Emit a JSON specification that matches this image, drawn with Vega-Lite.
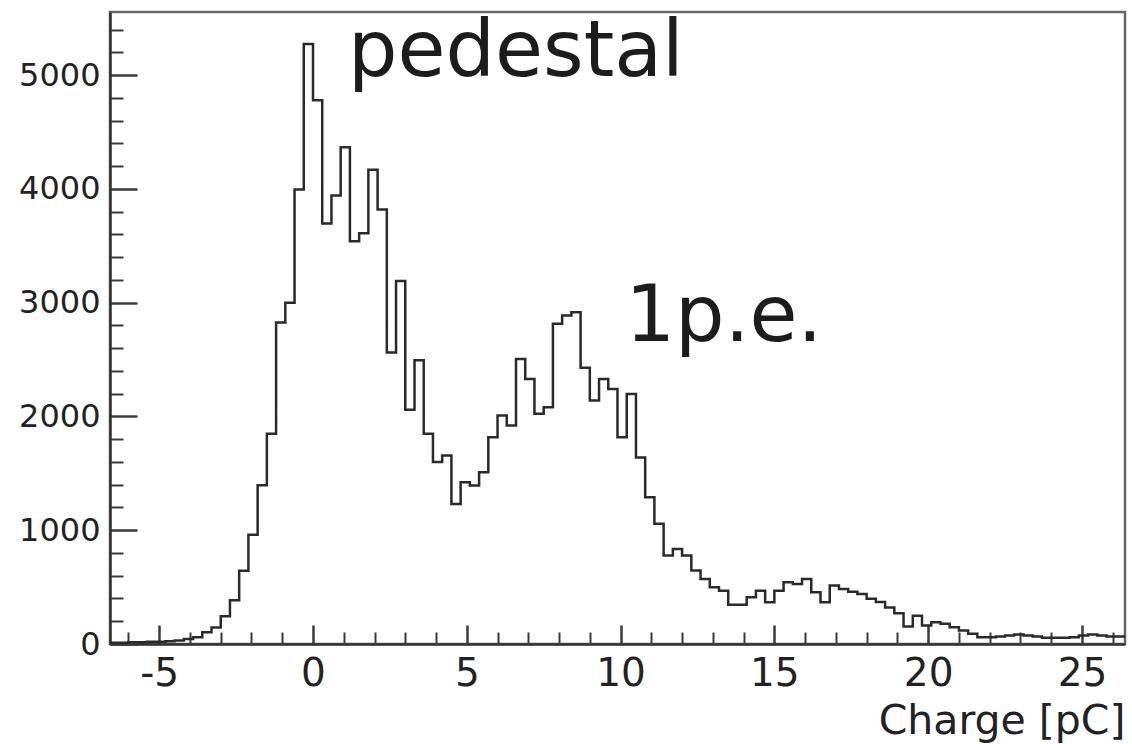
{
  "$schema": "https://vega.github.io/schema/vega-lite/v6.json",
  "width": 1015,
  "height": 632,
  "autosize": {"type": "none"},
  "padding": {"left": 110, "top": 12, "right": 7, "bottom": 100},
  "background": "white",
  "config": {
    "view": {"stroke": "#666666", "strokeWidth": 2.5},
    "axis": {"grid": false, "domainColor": "#333333", "domainWidth": 2.5, "tickColor": "#3a3a3a", "labelFont": "DejaVu Sans", "labelColor": "#222222", "titleFont": "DejaVu Sans", "titleColor": "#222222", "titleFontWeight": "normal"}
  },
  "datasets": {
    "hist": [
      {"charge": -6.6, "count": 10}, {"charge": -6.3, "count": 12}, {"charge": -6.0, "count": 15}, {"charge": -5.7, "count": 15},
      {"charge": -5.4, "count": 20}, {"charge": -5.1, "count": 20}, {"charge": -4.8, "count": 25}, {"charge": -4.5, "count": 30},
      {"charge": -4.2, "count": 45}, {"charge": -3.9, "count": 60}, {"charge": -3.6, "count": 104}, {"charge": -3.3, "count": 145},
      {"charge": -3.0, "count": 245}, {"charge": -2.7, "count": 385}, {"charge": -2.4, "count": 644}, {"charge": -2.1, "count": 960},
      {"charge": -1.8, "count": 1395}, {"charge": -1.5, "count": 1848}, {"charge": -1.2, "count": 2825}, {"charge": -0.9, "count": 3000},
      {"charge": -0.6, "count": 3994}, {"charge": -0.3, "count": 5274}, {"charge": 0.0, "count": 4779}, {"charge": 0.3, "count": 3697},
      {"charge": 0.6, "count": 3942}, {"charge": 0.9, "count": 4367}, {"charge": 1.2, "count": 3540}, {"charge": 1.5, "count": 3610},
      {"charge": 1.8, "count": 4168}, {"charge": 2.1, "count": 3819}, {"charge": 2.4, "count": 2563}, {"charge": 2.7, "count": 3191},
      {"charge": 3.0, "count": 2058}, {"charge": 3.3, "count": 2494}, {"charge": 3.6, "count": 1848}, {"charge": 3.9, "count": 1600},
      {"charge": 4.2, "count": 1657}, {"charge": 4.5, "count": 1231}, {"charge": 4.8, "count": 1422}, {"charge": 5.1, "count": 1393},
      {"charge": 5.4, "count": 1510}, {"charge": 5.7, "count": 1818}, {"charge": 6.0, "count": 2008}, {"charge": 6.3, "count": 1920},
      {"charge": 6.6, "count": 2506}, {"charge": 6.9, "count": 2330}, {"charge": 7.2, "count": 2023}, {"charge": 7.5, "count": 2081},
      {"charge": 7.8, "count": 2814}, {"charge": 8.1, "count": 2887}, {"charge": 8.4, "count": 2917}, {"charge": 8.7, "count": 2428},
      {"charge": 9.0, "count": 2140}, {"charge": 9.3, "count": 2330}, {"charge": 9.6, "count": 2242}, {"charge": 9.9, "count": 1818},
      {"charge": 10.2, "count": 2198}, {"charge": 10.5, "count": 1640}, {"charge": 10.8, "count": 1290}, {"charge": 11.1, "count": 1056},
      {"charge": 11.4, "count": 777}, {"charge": 11.7, "count": 836}, {"charge": 12.0, "count": 777}, {"charge": 12.3, "count": 645},
      {"charge": 12.6, "count": 572}, {"charge": 12.9, "count": 499}, {"charge": 13.2, "count": 469}, {"charge": 13.5, "count": 346},
      {"charge": 13.8, "count": 346}, {"charge": 14.1, "count": 411}, {"charge": 14.4, "count": 469}, {"charge": 14.7, "count": 367},
      {"charge": 15.0, "count": 469}, {"charge": 15.3, "count": 543}, {"charge": 15.6, "count": 528}, {"charge": 15.9, "count": 572},
      {"charge": 16.2, "count": 455}, {"charge": 16.5, "count": 367}, {"charge": 16.8, "count": 514}, {"charge": 17.1, "count": 484},
      {"charge": 17.4, "count": 460}, {"charge": 17.7, "count": 440}, {"charge": 18.0, "count": 397}, {"charge": 18.3, "count": 370},
      {"charge": 18.6, "count": 320}, {"charge": 18.9, "count": 270}, {"charge": 19.2, "count": 154}, {"charge": 19.5, "count": 249},
      {"charge": 19.8, "count": 163}, {"charge": 20.1, "count": 192}, {"charge": 20.4, "count": 177}, {"charge": 20.7, "count": 148},
      {"charge": 21.0, "count": 119}, {"charge": 21.3, "count": 90}, {"charge": 21.6, "count": 60}, {"charge": 21.9, "count": 60},
      {"charge": 22.2, "count": 66}, {"charge": 22.5, "count": 75}, {"charge": 22.8, "count": 84}, {"charge": 23.1, "count": 75},
      {"charge": 23.4, "count": 66}, {"charge": 23.7, "count": 55}, {"charge": 24.0, "count": 55}, {"charge": 24.3, "count": 55},
      {"charge": 24.6, "count": 60}, {"charge": 24.9, "count": 75}, {"charge": 25.2, "count": 84}, {"charge": 25.5, "count": 75},
      {"charge": 25.8, "count": 66}, {"charge": 26.1, "count": 66}, {"charge": 26.4, "count": 66}
    ],
    "notes": [
      {"x": 1.14, "y": 4990, "text": "pedestal"},
      {"x": 10.16, "y": 2660, "text": "1p.e."}
    ]
  },
  "layer": [
    {
      "data": {"name": "hist"},
      "mark": {"type": "line", "interpolate": "step-after", "color": "#2a2a2a", "strokeWidth": 2.5},
      "encoding": {
        "x": {
          "field": "charge", "type": "quantitative",
          "scale": {"domain": [-6.6, 26.4], "nice": false, "zero": false},
          "axis": {
            "orient": "bottom", "values": [-5, 0, 5, 10, 15, 20, 25], "tickSize": -19, "tickWidth": 2.5,
            "labelFontSize": 39, "labelPadding": 29, "labelFlush": false, "labelExpr": "'' + datum.value",
            "title": "Charge [pC]", "titleFontSize": 41, "titleAlign": "right", "titleAnchor": "end",
            "titleBaseline": "alphabetic", "titleX": 1015, "titleY": 89
          }
        },
        "y": {
          "field": "count", "type": "quantitative",
          "scale": {"domain": [0, 5555], "nice": false, "zero": true},
          "axis": {
            "orient": "left", "values": [0, 1000, 2000, 3000, 4000, 5000], "tickSize": -27, "tickWidth": 2.5,
            "labelFontSize": 32, "labelPadding": 37, "labelFlush": false, "labelExpr": "'' + datum.value", "title": null
          }
        }
      }
    },
    {
      "data": {"name": "notes"},
      "mark": {"type": "text", "align": "left", "baseline": "alphabetic", "font": "DejaVu Sans", "fontSize": 78, "color": "#1c1c1c"},
      "encoding": {
        "x": {
          "field": "x", "type": "quantitative",
          "scale": {"domain": [-6.6, 26.4], "nice": false, "zero": false},
          "axis": {
            "orient": "bottom", "values": [-6, -4, -3, -2, -1, 1, 2, 3, 4, 6, 7, 8, 9, 11, 12, 13, 14, 16, 17, 18, 19, 21, 22, 23, 24, 26],
            "tickSize": -12, "tickWidth": 2, "labels": false, "domain": false, "title": null
          }
        },
        "y": {
          "field": "y", "type": "quantitative",
          "scale": {"domain": [0, 5555], "nice": false, "zero": true},
          "axis": {
            "orient": "left", "values": [200, 400, 600, 800, 1200, 1400, 1600, 1800, 2200, 2400, 2600, 2800, 3200, 3400, 3600, 3800, 4200, 4400, 4600, 4800, 5200, 5400],
            "tickSize": -13, "tickWidth": 2, "labels": false, "domain": false, "title": null
          }
        },
        "text": {"field": "text", "type": "nominal"}
      }
    }
  ],
  "resolve": {"axis": {"x": "independent", "y": "independent"}}
}
